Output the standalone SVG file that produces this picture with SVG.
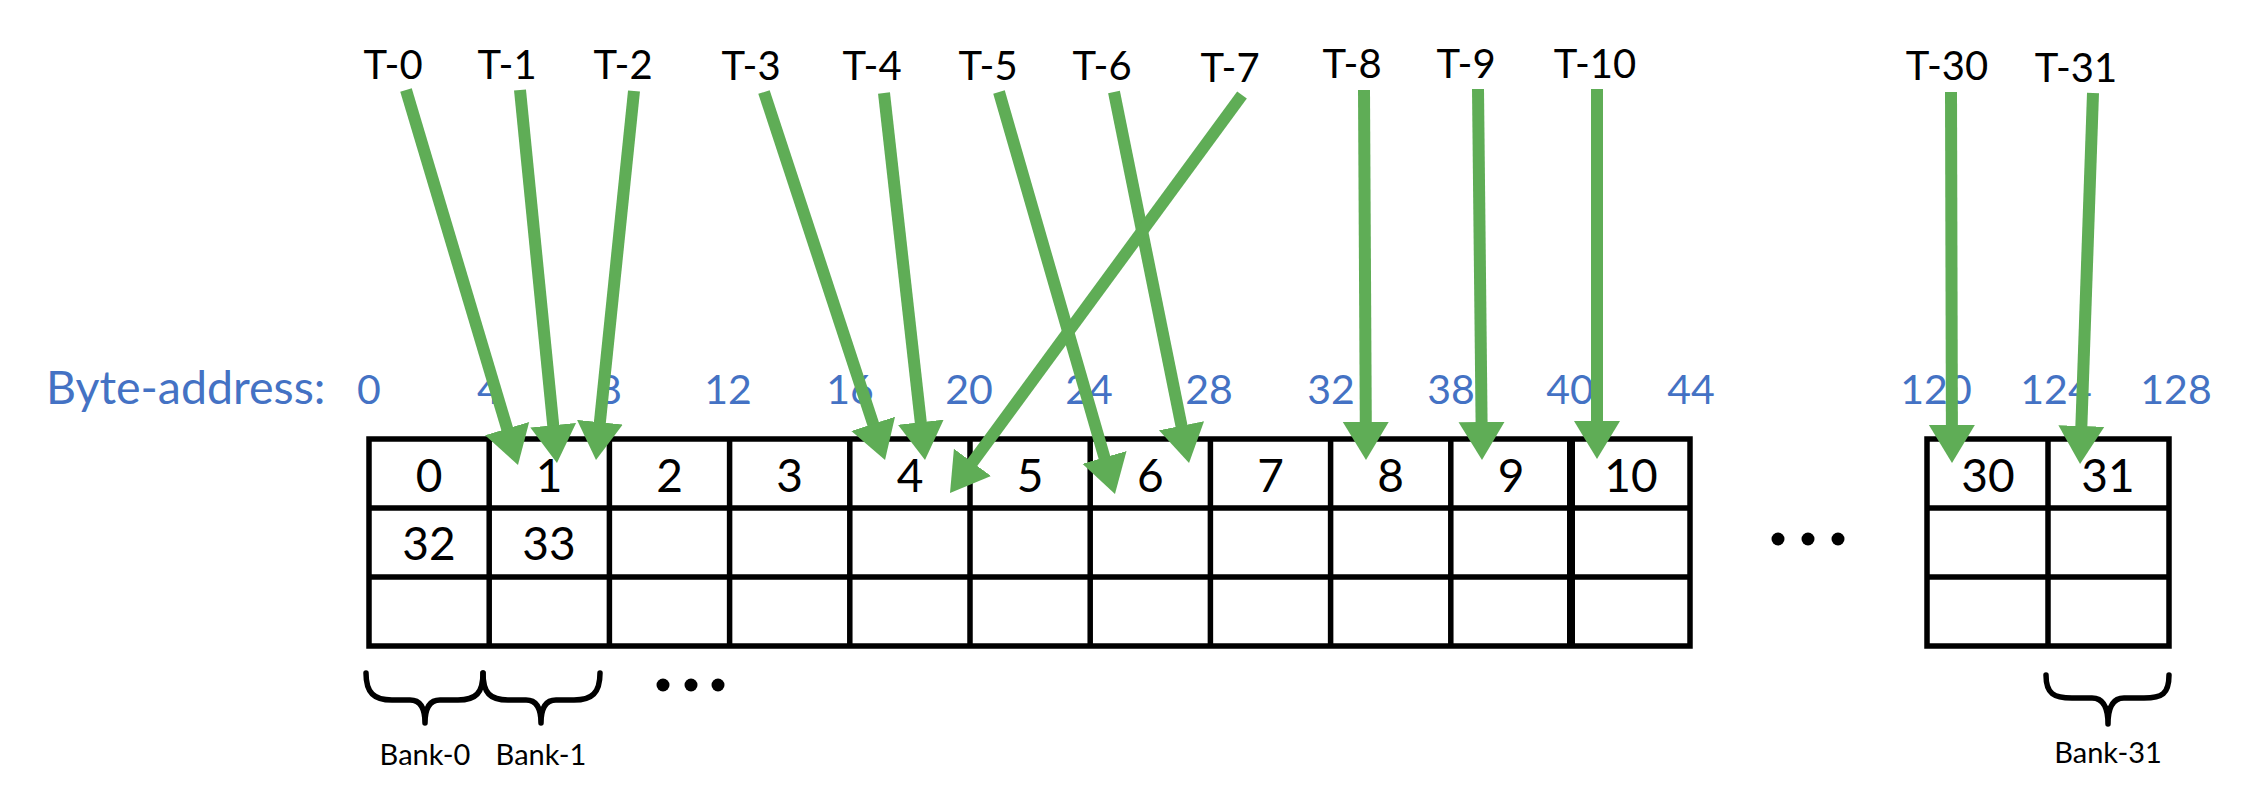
<svg xmlns="http://www.w3.org/2000/svg" width="2242" height="788" viewBox="0 0 2242 788">
<style>
.tl{font-family:Lato,"Liberation Sans",sans-serif;font-size:40px;fill:#000;text-anchor:middle}
.ba{font-family:Lato,"Liberation Sans",sans-serif;font-size:41px;fill:#4472C4;text-anchor:middle}
.cell{font-family:Lato,"Liberation Sans",sans-serif;font-size:46px;fill:#000;text-anchor:middle}
.bank{font-family:Lato,"Liberation Sans",sans-serif;font-size:29px;fill:#000;text-anchor:middle}
.grid{fill:none;stroke:#000;stroke-width:5.5}
.brace{fill:none;stroke:#000;stroke-width:5.5;stroke-linecap:round;stroke-linejoin:round}
.arr{stroke:#5FAD56;stroke-width:12;fill:none;marker-end:url(#ah)}
.dot{fill:#000}
</style>
<defs>
<marker id="ah" markerUnits="userSpaceOnUse" markerWidth="40" markerHeight="48" viewBox="0 -24 40 48" refX="2" refY="0" orient="auto">
<path d="M0,-23 L38,0 L0,23 z" fill="#5FAD56"/>
</marker>
</defs>
<rect width="2242" height="788" fill="#fff"/>

<g id="byte-address">
<text x="46" y="404" class="ba" style="text-anchor:start;font-size:46.5px">Byte-address:</text>
<text x="369" y="404" class="ba">0</text>
<text x="489" y="404" class="ba">4</text>
<text x="610" y="404" class="ba">8</text>
<text x="728" y="404" class="ba">12</text>
<text x="850" y="404" class="ba">16</text>
<text x="969" y="404" class="ba">20</text>
<text x="1089" y="404" class="ba">24</text>
<text x="1209" y="404" class="ba">28</text>
<text x="1331" y="404" class="ba">32</text>
<text x="1451" y="404" class="ba">38</text>
<text x="1570" y="404" class="ba">40</text>
<text x="1691" y="404" class="ba">44</text>
<text x="1936" y="404" class="ba">120</text>
<text x="2056" y="404" class="ba">124</text>
<text x="2176" y="404" class="ba">128</text>
</g>

<g id="table-main">
<rect x="369" y="439" width="1321" height="207" class="grid"/>
<path class="grid" d="M369,508 H1690 M369,577 H1690 M489.2,439 V646 M609.4,439 V646 M729.6,439 V646 M849.8,439 V646 M970,439 V646 M1090.2,439 V646 M1210.4,439 V646 M1330.6,439 V646 M1450.8,439 V646"/>
<path d="M1571,439 V646" stroke="#000" stroke-width="8" fill="none"/>
<text x="429" y="492" class="cell">0</text>
<text x="549" y="492" class="cell">1</text>
<text x="669.5" y="492" class="cell">2</text>
<text x="789.7" y="492" class="cell">3</text>
<text x="910" y="492" class="cell">4</text>
<text x="1030" y="492" class="cell">5</text>
<text x="1150.3" y="492" class="cell">6</text>
<text x="1270.5" y="492" class="cell">7</text>
<text x="1390.7" y="492" class="cell">8</text>
<text x="1511" y="492" class="cell">9</text>
<text x="1631" y="492" class="cell">10</text>
<text x="429" y="560" class="cell">32</text>
<text x="549" y="560" class="cell">33</text>
</g>

<g id="table-right">
<rect x="1927" y="439" width="242" height="207" class="grid"/>
<path class="grid" d="M1927,508 H2169 M1927,577 H2169 M2048,439 V646"/>
<text x="1988" y="492" class="cell">30</text>
<text x="2108" y="492" class="cell">31</text>
</g>

<g id="ellipsis-1">
<circle cx="1778" cy="539" r="6.5" class="dot"/>
<circle cx="1808" cy="539" r="6.5" class="dot"/>
<circle cx="1838" cy="539" r="6.5" class="dot"/>
</g>
<g id="ellipsis-2">
<circle cx="663" cy="685" r="6.5" class="dot"/>
<circle cx="691" cy="685" r="6.5" class="dot"/>
<circle cx="718" cy="685" r="6.5" class="dot"/>
</g>

<g id="bank-0">
<path class="brace" d="M366,673 C366,693 374,700 392,700 L410,700 C420,700 425,708 425,723 C425,708 430,700 440,700 L458,700 C476,700 483,693 483,673"/>
<text x="425" y="765" class="bank">Bank-0</text>
</g>
<g id="bank-1">
<path class="brace" d="M483,673 C483,693 490,700 508,700 L526,700 C536,700 541,708 541,723 C541,708 546,700 556,700 L574,700 C592,700 600,693 600,673"/>
<text x="541" y="765" class="bank">Bank-1</text>
</g>
<g id="bank-31">
<path class="brace" d="M2046,675 C2046,694 2054,698 2072,698 L2092,698 C2102,698 2108,706 2108,724 C2108,706 2114,698 2124,698 L2144,698 C2162,698 2169,694 2169,675"/>
<text x="2108" y="763" class="bank">Bank-31</text>
</g>

<g id="threads">
<text x="393" y="79" class="tl">T-0</text>
<text x="507" y="79" class="tl">T-1</text>
<text x="623" y="79" class="tl">T-2</text>
<text x="751" y="80" class="tl">T-3</text>
<text x="872" y="80" class="tl">T-4</text>
<text x="988" y="80" class="tl">T-5</text>
<text x="1102" y="80" class="tl">T-6</text>
<text x="1230" y="82" class="tl">T-7</text>
<text x="1352" y="78" class="tl">T-8</text>
<text x="1466" y="78" class="tl">T-9</text>
<text x="1595" y="78" class="tl">T-10</text>
<text x="1947" y="80" class="tl">T-30</text>
<text x="2076" y="82" class="tl">T-31</text>
</g>

<g id="connectors">
<line class="arr" x1="406" y1="90" x2="507.7" y2="430.5"/>
<line class="arr" x1="520" y1="90" x2="553.4" y2="427.2"/>
<line class="arr" x1="634" y1="91" x2="599.7" y2="424.2"/>
<line class="arr" x1="764" y1="92" x2="873.8" y2="425.8"/>
<line class="arr" x1="884" y1="93" x2="921" y2="424.2"/>
<line class="arr" x1="999" y1="92" x2="1105" y2="459.4"/>
<line class="arr" x1="1114" y1="92" x2="1181.9" y2="427.7"/>
<line class="arr" x1="1242" y1="95" x2="971.3" y2="464"/>
<line class="arr" x1="1364" y1="90" x2="1365.8" y2="424"/>
<line class="arr" x1="1478" y1="89" x2="1481.6" y2="424"/>
<line class="arr" x1="1597" y1="89" x2="1597" y2="423"/>
<line class="arr" x1="1951" y1="92" x2="1951.9" y2="427"/>
<line class="arr" x1="2093" y1="93" x2="2081.3" y2="428"/>
</g>
</svg>
